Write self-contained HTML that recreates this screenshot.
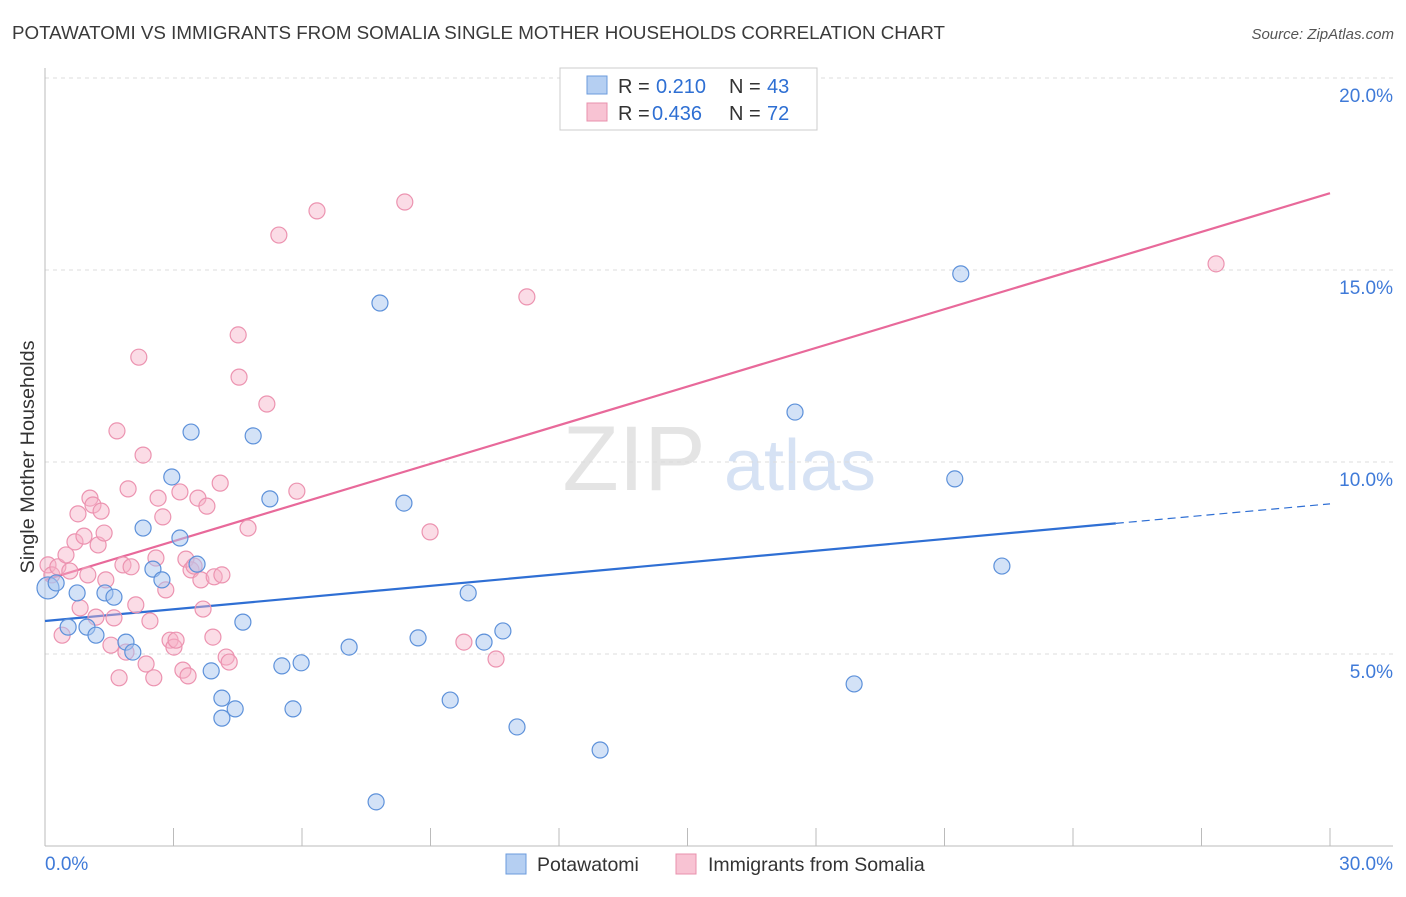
<!DOCTYPE html>
<html><head><meta charset="utf-8"><style>
body{margin:0;background:#fff;font-family:"Liberation Sans",sans-serif;}
svg text{font-family:"Liberation Sans",sans-serif;}
</style></head><body>
<svg id="chart" width="1406" height="892" viewBox="0 0 1406 892" xmlns="http://www.w3.org/2000/svg">
<text x="12" y="39" font-size="18" textLength="933" lengthAdjust="spacingAndGlyphs" fill="#3a3a3a">POTAWATOMI VS IMMIGRANTS FROM SOMALIA SINGLE MOTHER HOUSEHOLDS CORRELATION CHART</text>
<text x="1394" y="39" font-size="15" fill="#555" text-anchor="end" font-style="italic">Source: ZipAtlas.com</text>
<g>
<text x="634" y="490" font-size="92" fill="#e4e4e4" font-family="Liberation Serif" text-anchor="middle">ZIP</text>
<text x="800" y="490" font-size="72" fill="#d6e2f4" text-anchor="middle">atlas</text>
</g>
<g id="grid"></g>
<g id="axes"></g>
<text transform="translate(34,457) rotate(-90)" font-size="19" textLength="233" lengthAdjust="spacingAndGlyphs" fill="#333" text-anchor="middle">Single Mother Households</text>
<g id="trend"></g>
<g id="points"></g>
<g>
<rect x="560" y="68" width="257" height="62" fill="#fff" stroke="#ccc"/>
<rect x="587" y="76" width="20" height="18" fill="#b5cff2" stroke="#6b9bdc"/>
<text x="618" y="93" font-size="20" fill="#333">R = </text><text x="656" y="93" font-size="20" fill="#2e6fd3">0.210</text>
<text x="729" y="93" font-size="20" fill="#333">N = </text><text x="767" y="93" font-size="20" fill="#2e6fd3">43</text>
<rect x="587" y="103" width="20" height="18" fill="#f8c3d3" stroke="#e890ac"/>
<text x="618" y="120" font-size="20" fill="#333">R = </text><text x="652" y="120" font-size="20" fill="#2e6fd3">0.436</text>
<text x="729" y="120" font-size="20" fill="#333">N = </text><text x="767" y="120" font-size="20" fill="#2e6fd3">72</text>
</g>
<g>
<rect x="506" y="854" width="20" height="20" fill="#b5cff2" stroke="#6b9bdc"/>
<text x="537" y="871" font-size="19.5" fill="#333">Potawatomi</text>
<rect x="676" y="854" width="20" height="20" fill="#f8c3d3" stroke="#e890ac"/>
<text x="708" y="871" font-size="19.5" fill="#333">Immigrants from Somalia</text>
</g>
</svg>
<script>
const xTicks=[0,30];
const yTicks=[5,10,15,20];
const blueX=[0.07,0.26,0.54,0.75,0.98,1.19,1.40,1.61,1.89,2.05,2.29,2.52,2.73,2.96,3.15,3.41,3.55,3.88,4.13,4.13,4.44,4.62,4.86,5.25,5.53,5.79,5.98,7.10,7.82,7.73,8.38,8.71,9.46,9.88,10.25,10.69,11.02,12.96,17.51,18.89,21.24,21.38,22.34];
const blueY=[6.72,6.85,5.70,6.59,5.70,5.49,6.59,6.48,5.31,5.05,8.28,7.21,6.93,9.61,8.02,10.78,7.34,4.56,3.85,3.33,3.57,5.83,10.68,9.04,4.69,3.57,4.77,5.18,14.14,1.15,8.93,5.42,3.80,6.59,5.31,5.60,3.10,2.50,11.30,4.22,9.56,14.90,7.29];
const pinkX=[0.07,0.16,0.30,0.40,0.49,0.58,0.70,0.77,0.82,0.91,1.00,1.05,1.12,1.19,1.24,1.31,1.38,1.42,1.54,1.61,1.68,1.73,1.82,1.89,1.94,2.01,2.12,2.19,2.29,2.36,2.45,2.54,2.59,2.64,2.75,2.82,2.92,3.01,3.06,3.15,3.22,3.29,3.34,3.41,3.48,3.57,3.64,3.69,3.78,3.92,3.95,4.09,4.13,4.23,4.30,4.51,4.53,4.74,5.18,5.46,5.88,6.35,8.40,8.99,9.78,10.53,11.25,27.34];
const pinkY=[7.32,7.06,7.27,5.49,7.58,7.16,7.92,8.65,6.20,8.07,7.06,9.06,8.88,5.96,7.84,8.72,8.15,6.93,5.23,5.94,10.81,4.38,7.32,5.05,9.30,7.27,6.28,12.73,10.18,4.74,5.86,4.38,7.50,9.06,8.57,6.67,5.36,5.18,5.36,9.22,4.58,7.47,4.43,7.19,7.29,9.06,6.93,6.17,8.85,5.44,7.01,9.45,7.06,4.92,4.79,13.31,12.21,8.28,11.51,15.91,9.24,16.54,16.77,8.18,5.31,4.87,14.30,15.16];
const blueTrend=[5.86,8.91];
const pinkTrend=[6.93,17.0];
const NS="http://www.w3.org/2000/svg";
const X0=45,X1=1330,Y0=846,PXPER=38.4;
const sx=v=>X0+(v/30)*(X1-X0);
const sy=v=>Y0-v*PXPER;
function mk(tag,attrs,parent){const e=document.createElementNS(NS,tag);for(const k in attrs)e.setAttribute(k,attrs[k]);parent.appendChild(e);return e;}
const grid=document.getElementById('grid'),axes=document.getElementById('axes');
yTicks.forEach(t=>{
 const l=mk('line',{x1:X0,x2:1393,y1:sy(t),y2:sy(t),stroke:'#dcdcdc','stroke-dasharray':'4,4'},grid);
 
 
 const tx=mk('text',{x:1393,y:sy(t)+24,'font-size':19,fill:'#3f7ad8','text-anchor':'end'},grid);
 tx.textContent=t.toFixed(1)+'%';
 
 
});
const ya=mk('line',{x1:X0,x2:X0,y1:68,y2:Y0,stroke:'#bbb'},axes);


const xa=mk('line',{x1:X0,x2:1393,y1:Y0,y2:Y0,stroke:'#bbb'},axes);


for(let i=0;i<=10;i++){const v=i*3;const t=mk('line',{x1:sx(v),x2:sx(v),y1:828,y2:Y0,stroke:'#bbb'},axes);
 
 }
xTicks.forEach((t,i)=>{const tx=mk('text',{x:i==0?X0:1393,y:870,'font-size':19,fill:'#3f7ad8','text-anchor':i==0?'start':'end'},axes);
 tx.textContent=t.toFixed(1)+'%';
 
 });
const tr=document.getElementById('trend');
const bl=mk('line',{x1:sx(0),y1:sy(blueTrend[0]),x2:sx(25),y2:sy(blueTrend[0]+(blueTrend[1]-blueTrend[0])*25/30),stroke:'#2f6fd4','stroke-width':2.2},tr);


const bd=mk('line',{x1:sx(25),y1:sy(blueTrend[0]+(blueTrend[1]-blueTrend[0])*25/30),x2:sx(30),y2:sy(blueTrend[1]),stroke:'#2f6fd4','stroke-width':1.2,'stroke-dasharray':'8,5'},tr);


const pl=mk('line',{x1:sx(0),y1:sy(pinkTrend[0]),x2:sx(30),y2:sy(pinkTrend[1]),stroke:'#e8699a','stroke-width':2.2},tr);


const pts=document.getElementById('points');
pinkX.forEach((x,i)=>{const c=mk('circle',{cx:sx(x),cy:sy(pinkY[i]),r:8,fill:'rgba(246,178,200,0.45)',stroke:'#ec93b0','stroke-width':1.2},pts);
 
 });
blueX.forEach((x,i)=>{const c=mk('circle',{cx:sx(x),cy:sy(blueY[i]),r:i==0?11:8,fill:'rgba(168,198,240,0.5)',stroke:'#5d91da','stroke-width':1.2},pts);
 
 });
</script>
</body></html>
